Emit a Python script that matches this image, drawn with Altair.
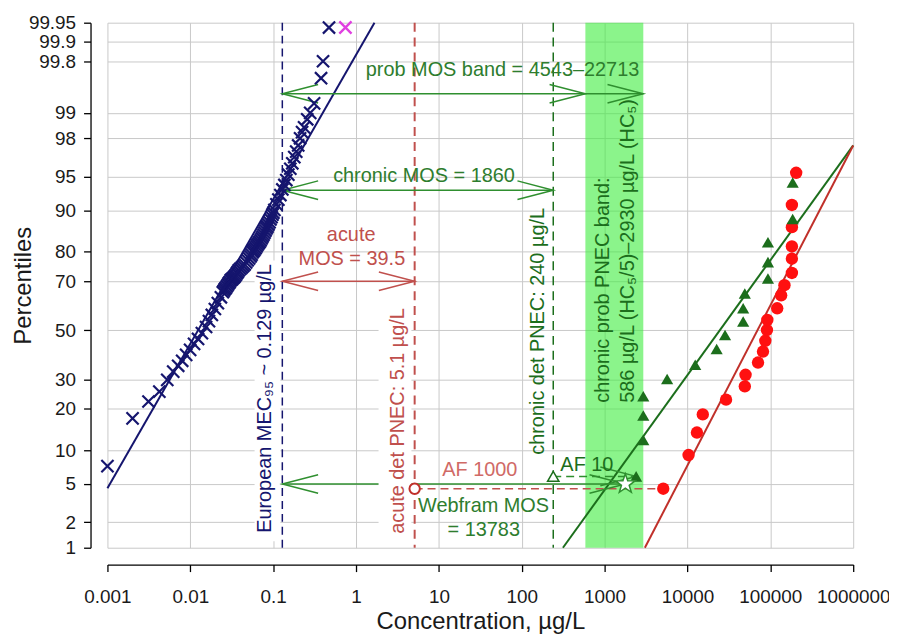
import altair as alt
import pandas as pd
from statistics import NormalDist

ND = NormalDist()

# ---------------- axis ticks ----------------
y_tick_pct = [1, 2, 5, 10, 20, 30, 50, 70, 80, 90, 95, 98, 99, 99.8, 99.9, 99.95]
x_tick_conc = [0.001, 0.01, 0.1, 1, 10, 100, 1000, 10000, 100000, 1000000]

# ---------------- measured environmental concentrations (blue crosses) ----------------
mec_conc = [0.001, 0.00201, 0.00313, 0.00423, 0.00527, 0.00622, 0.00714, 0.00798, 0.00891, 0.00995,
            0.0111, 0.0124, 0.0138, 0.0155, 0.0168, 0.0182, 0.0198, 0.0215, 0.0234, 0.0247,
            0.0254, 0.0261, 0.0268, 0.0276, 0.0284, 0.0292, 0.0300, 0.0308, 0.0317, 0.0326,
            0.0335, 0.0344, 0.0354, 0.0364, 0.0374, 0.0384, 0.0400, 0.0417, 0.0435, 0.0453,
            0.0472, 0.0492, 0.0513, 0.0534, 0.0549, 0.0565, 0.0581, 0.0597, 0.0614, 0.0631,
            0.0649, 0.0667, 0.0686, 0.0705, 0.0725, 0.0745, 0.0766, 0.0787, 0.0809, 0.0832,
            0.0855, 0.0878, 0.0903, 0.0928, 0.0954, 0.0980, 0.1007, 0.1035, 0.1094, 0.1156,
            0.1222, 0.1291, 0.1365, 0.1442, 0.1524, 0.1611, 0.1702, 0.1799, 0.1897, 0.2005,
            0.2113, 0.2234, 0.2360, 0.2576, 0.2799, 0.3119, 0.3784, 0.400, 0.472]
mec_pct = [7.3, 17.3, 22.3, 25.6, 29.8, 32.9, 35.2, 37.2, 39.6, 41.7,
           44.2, 46.3, 48.8, 51.4, 53.9, 56.5, 59.0, 61.4, 63.8, 65.8,
           66.4, 67.0, 67.5, 68.1, 68.7, 69.3, 69.8, 70.4, 70.7, 71.1,
           71.4, 71.8, 72.3, 72.9, 73.4, 73.9, 74.4, 74.9, 75.4, 75.9,
           76.6, 77.3, 77.9, 78.5, 79.1, 79.8, 80.2, 80.6, 81.0, 81.5,
           82.0, 82.4, 82.8, 83.2, 83.7, 84.2, 84.7, 85.2, 85.7, 86.2,
           86.6, 87.1, 87.6, 88.2, 88.7, 89.2, 89.6, 90.1, 91.1, 91.9,
           92.6, 93.4, 94.0, 94.6, 95.2, 95.8, 96.3, 96.8, 97.2, 97.6,
           98.0, 98.3, 98.5, 98.8, 99.0, 99.24, 99.65, 99.80, 99.94]
mec_top_conc = [0.745]
mec_top_pct = [99.94]

# ---------------- acute toxicity data (red circles) ----------------
acute_conc = [5100, 10300, 13000, 15300, 29200, 49200, 50200, 71000, 81500, 87000, 91000,
              92000, 121000, 135000, 148000, 182000, 182000, 182000, 182000, 182000, 205000]
acute_pct = [4.5, 9.1, 13.7, 18.4, 22.9, 27.4, 31.7, 36.5, 41.0, 45.5, 50.1,
             54.4, 59.3, 64.6, 68.5, 73.0, 77.8, 81.5, 86.5, 91.0, 95.4]

# ---------------- chronic toxicity data (green triangles) ----------------
chronic_conc = [2400, 2930, 2930, 2930, 5680, 12400, 22500, 28400, 47000, 47000, 49200,
                93600, 93600, 93600, 186000, 186000]
chronic_pct = [5.9, 12.0, 18.1, 24.0, 30.1, 35.6, 42.1, 48.0, 53.7, 59.3, 65.3,
               71.0, 76.7, 82.7, 88.3, 94.3]

# ---------------- fitted distributions ----------------
mec_fit_conc = [0.001, 1.67]
mec_fit_pct = [4.54, 99.95]
chronic_fit_conc = [314, 1000000]
chronic_fit_pct = [1, 97.6]
acute_fit_conc = [3060, 1000000]
acute_fit_pct = [1, 97.6]

# ---------------- reference values ----------------
mec95 = [0.129]
acute_pnec = [5.1]
chronic_pnec = [240]
band_lo = [586]
band_hi = [2930]
star_conc = [1778]
star_pct = [5.0]
acute_pnec_pct = [4.5]
chronic_pnec_pct = [5.9]

# green MOS arrows: from MEC95 to ...
g_arrow_from = [0.129, 0.129, 0.129]
g_arrow_to = [2930, 240, 1778]
g_arrow_pct = [99.43, 93.3, 5.0]
r_arrow_from = [0.129]
r_arrow_to = [5.1]
r_arrow_pct = [70.0]
# assessment-factor dashed links
af_red_from = [5.1]
af_red_to = [5100]
af_red_pct = [4.5]
af_green_from = [240]
af_green_to = [2400]
af_green_pct = [5.9]

# arrow tips
g_left_conc = [0.129, 0.129, 0.129]
g_left_pct = [99.43, 93.3, 5.0]
g_right_conc = [586, 2930, 240, 1778, 2400]
g_right_pct = [99.43, 99.43, 93.3, 5.0, 5.9]
r_left_conc = [0.129]
r_left_pct = [70.0]
r_right_conc = [5.1]
r_right_pct = [70.0]

# ---------------- annotation texts ----------------
green_texts = ["prob MOS band = 4543\u201322713", "chronic MOS = 1860", "Webfram MOS", "= 13783"]
green_text_conc = [58.6, 6.61, 34.6, 34.8]
green_text_pct = [99.728, 95.07, 2.97, 1.646]
red_texts = ["acute", "MOS = 39.5"]
red_text_conc = [0.874, 0.891]
red_text_pct = [84.47, 77.82]
af_red_text = ["AF 1000"]
af_red_text_conc = [31.2]
af_red_text_pct = [6.68]
af_green_text = ["AF 10"]
af_green_text_conc = [611]
af_green_text_pct = [7.48]

mec_label = "European MEC\u2089\u2085 ~ 0.129 \u00b5g/L"
mec_label_pct = [1.51]
acute_label = "acute det PNEC: 5.1 \u00b5g/L"
acute_label_pct = [1.47]
chronic_label = "chronic det PNEC: 240 \u00b5g/L"
chronic_label_pct = [9.15]
band_label = ["chronic prob PNEC band:", "586 \u00b5g/L (HC\u2085/5)\u20132930 \u00b5g/L (HC\u2085)"]
band_label_pct = [21.9]

# white boxes behind the rotated labels (concentration and percentile extents)
box_lo = [0.0597, 1.87]
box_hi = [0.1223, 4.66]
box_p_lo = [1.2, 1.3]
box_p_hi = [77.2, 61.4]

# ---------------- style ----------------
FONT = "Liberation Sans"
NAVY = "#15156e"
MAGENTA = "#e040e0"
GREEN = "#2f8f2f"
GREEN_DARK = "#1c6e1c"
GREEN_TXT = "#2e7d2e"
RED = "#c0504d"
RED_DOT = "#ff1010"
RED_LINE = "#c0302a"
W, H = 750, 528

y_tick_z = [ND.inv_cdf(p / 100) for p in y_tick_pct]
x_scale = alt.Scale(type="log", domain=[x_tick_conc[0], x_tick_conc[-1]], nice=False)
y_scale = alt.Scale(domain=[y_tick_z[0], y_tick_z[-1]], nice=False, zero=False)

x_axis = alt.Axis(values=x_tick_conc, labelExpr="'' + datum.value", title="Concentration, \u00b5g/L",
                  offset=17, tickSize=7, labelPadding=16, titlePadding=3, labelFlush=False,
                  labelOverlap=False, grid=True)
y_axis = alt.Axis(values=y_tick_z,
                  labelExpr="'' + round(cumulativeNormal(datum.value) * 10000) / 100",
                  title="Percentiles", offset=17, tickSize=7, labelPadding=8, titlePadding=-7,
                  labelFlush=False, labelOverlap=False, grid=True)


def ex(f="c"):
    return alt.X(f"{f}:Q", scale=x_scale, axis=x_axis)


def ey(f="z"):
    return alt.Y(f"{f}:Q", scale=y_scale, axis=y_axis)


def src(c, p=None, **extra):
    d = {"c": c}
    if p is not None:
        d["p"] = p
    d.update(extra)
    ch = alt.Chart(pd.DataFrame(d))
    if p is not None:
        ch = ch.transform_calculate(z="quantileNormal(datum.p / 100)")
    return ch


CROSS = "M-1,-1L1,1M-1,1L1,-1"
HEAD_R = "M-1,-0.26L0,0L-1,0.26"
HEAD_L = "M1,-0.26L0,0L1,0.26"
STAR = ("M0,-1L0.235,-0.324L0.951,-0.309L0.380,0.124L0.588,0.809L0,0.4L-0.588,0.809"
        "L-0.380,0.124L-0.951,-0.309L-0.235,-0.324Z")

layers = []
# band
layers.append(src(band_lo, c2=band_hi).mark_rect(color="#44ee44", opacity=0.62)
              .encode(x=ex(), x2="c2:Q"))
# vertical reference lines
layers.append(src(mec95).mark_rule(color=NAVY, strokeWidth=1.5, strokeDash=[8, 5]).encode(x=ex()))
layers.append(src(acute_pnec).mark_rule(color=RED, strokeWidth=2, strokeDash=[9, 6]).encode(x=ex()))
layers.append(src(chronic_pnec).mark_rule(color=GREEN_DARK, strokeWidth=1.5, strokeDash=[9, 6]).encode(x=ex()))
# fitted lines
layers.append(src(mec_fit_conc, mec_fit_pct).mark_line(color=NAVY, strokeWidth=2).encode(x=ex(), y=ey()))
layers.append(src(chronic_fit_conc, chronic_fit_pct).mark_line(color=GREEN_DARK, strokeWidth=2).encode(x=ex(), y=ey()))
layers.append(src(acute_fit_conc, acute_fit_pct).mark_line(color=RED_LINE, strokeWidth=2).encode(x=ex(), y=ey()))
# arrows
layers.append(src(g_arrow_from, g_arrow_pct, c2=g_arrow_to).mark_rule(color=GREEN, strokeWidth=1.5)
              .encode(x=ex(), x2="c2:Q", y=ey()))
layers.append(src(r_arrow_from, r_arrow_pct, c2=r_arrow_to).mark_rule(color=RED, strokeWidth=1.5)
              .encode(x=ex(), x2="c2:Q", y=ey()))
layers.append(src(af_red_from, af_red_pct, c2=af_red_to).mark_rule(color=RED, strokeWidth=1.5, strokeDash=[8, 5])
              .encode(x=ex(), x2="c2:Q", y=ey()))
layers.append(src(af_green_from, af_green_pct, c2=af_green_to).mark_rule(color=GREEN, strokeWidth=1.5, strokeDash=[8, 5])
              .encode(x=ex(), x2="c2:Q", y=ey()))
# white label boxes (cover grid and arrows like the text boxes of the original)
layers.append(
    alt.Chart(pd.DataFrame({"c": box_lo, "c2": box_hi, "p": box_p_lo, "p2": box_p_hi}))
    .transform_calculate(z="quantileNormal(datum.p / 100)", z2="quantileNormal(datum.p2 / 100)")
    .mark_rect(color="white", opacity=1)
    .encode(x=ex(), x2="c2:Q", y=ey(), y2="z2:Q")
)
# arrow heads
head = dict(filled=False, size=5184, strokeWidth=1.5, opacity=1)
layers.append(src(g_left_conc, g_left_pct).mark_point(shape=HEAD_L, color=GREEN, **head).encode(x=ex(), y=ey()))
layers.append(src(g_right_conc, g_right_pct).mark_point(shape=HEAD_R, color=GREEN, **head).encode(x=ex(), y=ey()))
layers.append(src(r_left_conc, r_left_pct).mark_point(shape=HEAD_L, color=RED, **head).encode(x=ex(), y=ey()))
layers.append(src(r_right_conc, r_right_pct).mark_point(shape=HEAD_R, color=RED, **head).encode(x=ex(), y=ey()))
# data points
layers.append(src(mec_conc, mec_pct).mark_point(shape=CROSS, filled=False, color=NAVY, size=150, strokeWidth=2.2, opacity=1)
              .encode(x=ex(), y=ey()))
layers.append(src(mec_top_conc, mec_top_pct).mark_point(shape=CROSS, filled=False, color=MAGENTA, size=150, strokeWidth=2.4, opacity=1)
              .encode(x=ex(), y=ey()))
layers.append(src(acute_conc, acute_pct).mark_circle(color=RED_DOT, size=155, opacity=1).encode(x=ex(), y=ey()))
layers.append(src(chronic_conc, chronic_pct).mark_point(shape="triangle-up", filled=True, color=GREEN_DARK, size=150, opacity=1)
              .encode(x=ex(), y=ey()))
# PNEC markers and Webfram star
layers.append(src(acute_pnec, acute_pnec_pct).mark_point(shape="circle", filled=True, fill="white", stroke=RED_LINE,
                                                        strokeWidth=2, size=110, opacity=1).encode(x=ex(), y=ey()))
layers.append(src(chronic_pnec, chronic_pnec_pct).mark_point(shape="triangle-up", filled=True, fill="white", stroke=GREEN_DARK,
                                                            strokeWidth=1.5, size=130, opacity=1).encode(x=ex(), y=ey()))
layers.append(src(star_conc, star_pct).mark_point(shape=STAR, filled=True, fill="white", stroke=GREEN,
                                                  strokeWidth=1.5, size=420, opacity=1).encode(x=ex(), y=ey()))
# horizontal texts
txt = dict(font=FONT, fontSize=20, align="center", baseline="middle")
layers.append(src(green_text_conc, green_text_pct, t=green_texts).mark_text(color=GREEN_TXT, **txt)
              .encode(x=ex(), y=ey(), text="t:N"))
layers.append(src(red_text_conc, red_text_pct, t=red_texts).mark_text(color=RED, **txt)
              .encode(x=ex(), y=ey(), text="t:N"))
layers.append(src(af_red_text_conc, af_red_text_pct, t=af_red_text).mark_text(color="#d06a66", **txt)
              .encode(x=ex(), y=ey(), text="t:N"))
layers.append(src(af_green_text_conc, af_green_text_pct, t=af_green_text).mark_text(color=GREEN_DARK, **txt)
              .encode(x=ex(), y=ey(), text="t:N"))
# rotated texts
rot = dict(font=FONT, fontSize=20, angle=270, align="left")
layers.append(src(mec95, mec_label_pct).mark_text(text=mec_label, color=NAVY, baseline="bottom", dy=-7, **rot)
              .encode(x=ex(), y=ey()))
layers.append(src(acute_pnec, acute_label_pct).mark_text(text=acute_label, color=RED, baseline="bottom", dy=-7, **rot)
              .encode(x=ex(), y=ey()))
layers.append(src(chronic_pnec, chronic_label_pct).mark_text(text=chronic_label, color=GREEN_DARK, baseline="bottom", dy=-5, **rot)
              .encode(x=ex(), y=ey()))
layers.append(src(band_lo, band_label_pct).mark_text(text=band_label, color=GREEN_DARK, baseline="top", dy=8, lineHeight=25, **rot)
              .encode(x=ex(), y=ey()))

chart = alt.layer(*layers).properties(
    width=W, height=H,
    padding={"left": 100, "top": 13, "right": 36, "bottom": 88},
    autosize=alt.AutoSizeParams(type="none"),
    background="white",
).configure_view(stroke=None).configure_axis(
    labelFont=FONT, titleFont=FONT, labelFontSize=19, titleFontSize=24, titleFontWeight="normal",
    labelColor="#1a1a1a", titleColor="#1a1a1a", domainColor="#000000", tickColor="#000000",
    domainWidth=1.3, tickWidth=1.3, gridColor="#c9c9c9", gridWidth=1, gridOpacity=1,
)

chart.save("out.html", embed_options={"renderer": "svg", "actions": False})
